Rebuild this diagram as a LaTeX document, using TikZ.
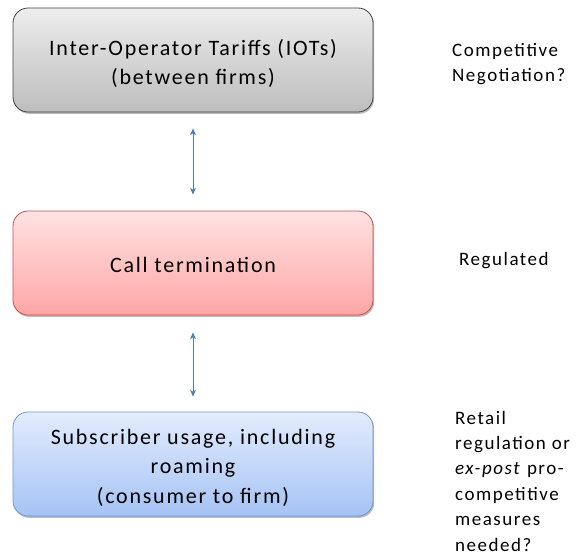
\documentclass[tikz,border=0pt]{standalone}
\usepackage{fontspec}
\setmainfont{Carlito}[LetterSpace=8]
\usetikzlibrary{arrows.meta,shadows}
\definecolor{grayT}{HTML}{EDEDED}
\definecolor{grayB}{HTML}{BDBDBD}
\definecolor{redT}{HTML}{FFE3E3}
\definecolor{redB}{HTML}{FFA5A5}
\definecolor{redD}{HTML}{C0504D}
\definecolor{blueT}{HTML}{E3ECFD}
\definecolor{blueB}{HTML}{A5C3F5}
\definecolor{blueD}{HTML}{6F95CC}
\definecolor{arrowC}{HTML}{4A7EBB}
\newcommand{\bxt}[1]{\raisebox{-4pt}[\height][\depth]{\begin{tabular}{@{}c@{}}#1\end{tabular}}}
\begin{document}
\begin{tikzpicture}[x=1pt,y=1pt,
  box/.style={rectangle, rounded corners=15pt, minimum width=360pt, minimum height=104pt,
    inner sep=0pt, align=center, font=\fontsize{22}{29.5}\selectfont, line width=0.8pt,
    drop shadow={shadow xshift=1.2pt, shadow yshift=-1.8pt, opacity=0.45, fill=black!60}},
  graybox/.style={box, draw=black!75, top color=grayT, bottom color=grayB},
  redbox/.style={box, draw=redD, top color=redT, bottom color=redB},
  bluebox/.style={box, draw=blueD, top color=blueT, bottom color=blueB},
  link/.style={draw=arrowC, line width=0.8pt, {Stealth[length=7pt,width=6pt]}-{Stealth[length=7pt,width=6pt]}},
  side/.style={anchor=west, align=left, inner sep=0pt, font=\fontsize{19}{25.4}\selectfont}
]
\useasboundingbox (0,0) rectangle (576,-557);
\node[graybox] (iot) at (193,-60) {\bxt{Inter-Operator Tariffs (IOTs)\\(between firms)}};
\node[redbox] (ct) at (193,-263) {\bxt{Call termination}};
\node[bluebox] (sub) at (193,-464) {\bxt{Subscriber usage, including\\roaming\\(consumer to firm)}};
\coordinate (a1) at ([yshift=-16pt]iot.south);
\coordinate (a2) at ([yshift=16pt]ct.north);
\coordinate (b1) at ([yshift=-17pt]ct.south);
\coordinate (b2) at ([yshift=15pt]sub.north);
\draw[link] (a1) -- (a2);
\draw[link] (b1) -- (b2);
\node[side] (lab1) at (452,-64) {Competitive\\Negotiation?};
\node[side] (lab2) at (459,-261) {Regulated};
\node[side] (lab3) at (455,-481) {Retail\\regulation or\\\textit{ex-post} pro-\\competitive\\measures\\needed?};
\end{tikzpicture}
\end{document}
